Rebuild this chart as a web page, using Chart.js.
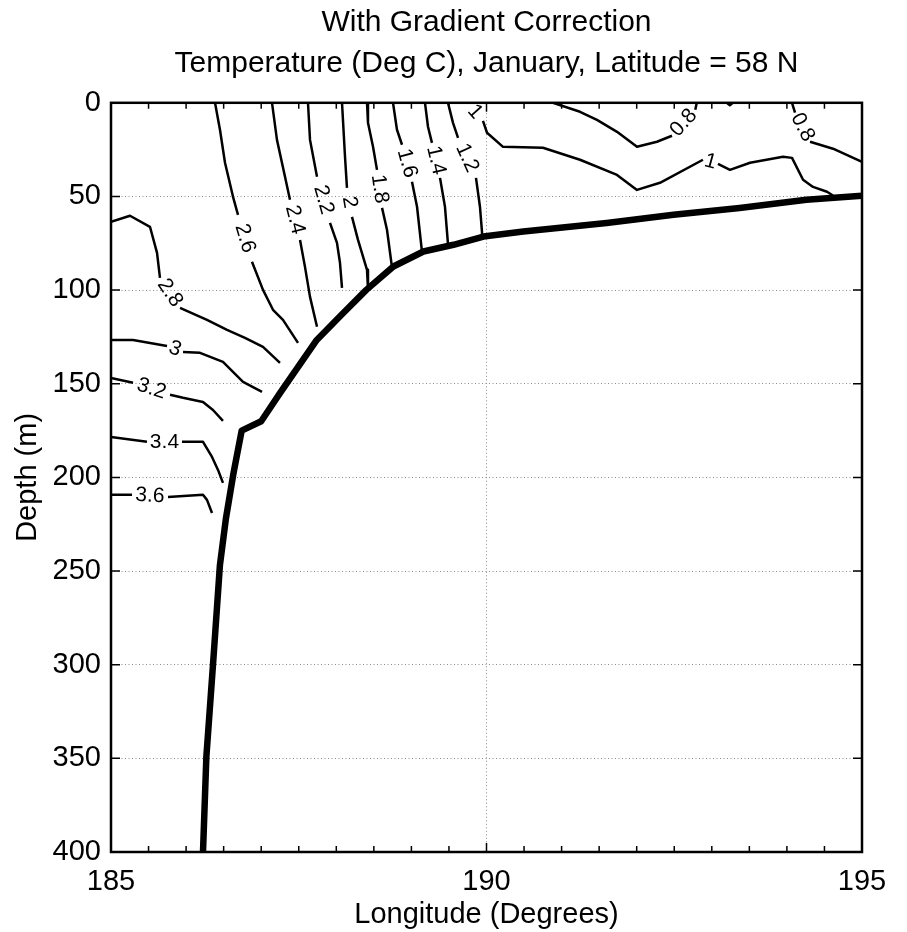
<!DOCTYPE html>
<html>
<head>
<meta charset="utf-8">
<title>Temperature section, January, 58 N</title>
<script src="https://cdn.jsdelivr.net/npm/chart.js@4.4.0/dist/chart.umd.min.js"></script>
<style>
  html, body { margin: 0; padding: 0; background: #fff; }
  #wrap { width: 907px; height: 932px; }
</style>
</head>
<body>
<div id="wrap"><canvas id="sectionChart" width="907" height="932"></canvas></div>
<script>
// points are [longitude, depth]; a null is where the contour label goes
var seafloor = [
  [186.225, 400], [186.27, 349], [186.36, 299], [186.45, 247], [186.53, 222],
  [186.63, 198], [186.74, 175], [187.0, 170], [187.25, 155], [187.74, 126.6],
  [188.05, 114], [188.40, 99.9], [188.76, 87.4], [189.16, 79.4], [189.56, 75.8],
  [189.96, 71.4], [190.49, 68.7], [191.6, 64.2], [192.49, 59.8], [193.37, 56.2],
  [194.26, 51.8], [195.0, 49.6]
];

var iso08a = [
  [190.885, 0], [191.245, 4.8], [191.471, 9.1], [191.738, 15.5], [192.004, 23.5],
  [192.27, 20.8], [192.47, 17.6], null, [192.78, 3.7], [192.80, 0]
];
var iso08b = [
  [194.068, 0], [194.108, 5.3], null, [194.308, 20.8], [194.614, 24.5], [195.0, 31.5]
];
var iso08c = [[193.20, 0], [193.24, 1.3], [193.28, 0]];
var iso10 = [
  [189.74, 0], null, [189.953, 9.6], [190.007, 16.0], [190.22, 23.5], [190.752, 24.0],
  [191.245, 30.4], [191.738, 38.5], [192.004, 46.5], [192.31, 42.7], [192.882, 30.4],
  null, [193.082, 32.6], [193.242, 35.8], [193.509, 32.0], [193.948, 28.8],
  [194.068, 29.4], [194.215, 41.1], [194.348, 44.9], [194.534, 47.5], [194.614, 49.5]
];
var iso12 = [
  [189.487, 0], [189.554, 10.7], [189.621, 18.7], null, [189.86, 40.1],
  [189.913, 55.5], [189.94, 68.9], [189.94, 71.5]
];
var iso14 = [
  [189.181, 0], [189.221, 12.8], [189.274, 21.4], null, [189.381, 40.1],
  [189.447, 55.5], [189.487, 75.3]
];
var iso16 = [
  [188.755, 0], [188.808, 14.4], [188.875, 22.4], null, [189.008, 42.2],
  [189.075, 55.5], [189.141, 79.6]
];
var iso18 = [
  [188.409, 0], [188.422, 10.7], [188.489, 23.5], [188.542, 35.8], null,
  [188.609, 56.1], [188.675, 67.8], [188.742, 88.0]
];
var iso20 = [
  [188.076, 0], [188.116, 28.8], [188.142, 45.4], null, [188.209, 60.9],
  [188.289, 73.2], [188.409, 89.2], [188.422, 99.5]
];
var iso22 = [
  [187.623, 0], [187.65, 19.8], [187.743, 39.5], null, [187.916, 64.1],
  [188.009, 74.8], [188.049, 85.4], [188.076, 98.8]
];
var iso24 = [
  [187.144, 0], [187.21, 19.8], [187.317, 39.5], [187.383, 51.8], null,
  [187.517, 73.2], [187.583, 87.6], [187.65, 103.6], [187.743, 119.6]
];
var iso26 = [
  [186.385, 0], [186.451, 14.4], [186.518, 32.0], [186.625, 50.2], [186.691, 59.8],
  null, [186.877, 84.9], [187.024, 99.9], [187.157, 110.5], [187.29, 115.9], [187.49, 128.2]
];
var iso28 = [
  [185.0, 63.6], [185.253, 60.3], [185.519, 66.2], [185.613, 80.1], [185.652, 93.5],
  null, [185.919, 109.5], [186.278, 115.9], [186.545, 121.2], [186.784, 125.5],
  [187.024, 130.3], [187.25, 138.9]
];
var iso30 = [
  [185.0, 126.6], [185.293, 126.6], [185.746, 129.8], null, [185.959, 133.0],
  [186.185, 133.5], [186.491, 138.3], [186.758, 149.0], [187.011, 154.3]
];
var iso32 = [
  [185.0, 146.9], [185.293, 149.5], null, [185.786, 155.9], [185.959, 157.5],
  [186.225, 159.7], [186.358, 164.0], [186.491, 169.8]
];
var iso34 = [
  [185.0, 178.4], [185.479, 181.0], null, [185.945, 181.0], [186.225, 181.0],
  [186.345, 189.1], [186.425, 196.0], [186.491, 202.9]
];
var iso36 = [
  [185.0, 209.3], [185.28, 209.3], null, [185.759, 210.4], [186.225, 209.3],
  [186.278, 212.0], [186.345, 219.0]
];

var isoLevels = [0.8, 0.8, 0.8, 1, 1.2, 1.4, 1.6, 1.8, 2, 2.2, 2.4, 2.6, 2.8, 3, 3.2, 3.4, 3.6];
var isoLines = [iso08a, iso08b, iso08c, iso10, iso12, iso14, iso16, iso18, iso20,
                iso22, iso24, iso26, iso28, iso30, iso32, iso34, iso36];

var titleLines = ['With Gradient Correction', 'Temperature (Deg C), January, Latitude = 58 N'];
var lonTicks = [185, 190, 195];

var FONT = '"Liberation Sans", Arial, Helvetica, sans-serif';

function toPoints(line) {
  return line.map(function(p) {
    return p ? { x: p[0], y: p[1] } : { x: null, y: null };
  });
}

var datasets = [{
  label: 'bottom',
  data: toPoints(seafloor),
  showLine: true,
  borderColor: '#000',
  borderWidth: 6.5,
  borderJoinStyle: 'round',
  pointRadius: 0
}];
isoLines.forEach(function(line, i) {
  datasets.push({
    label: String(isoLevels[i]),
    level: isoLevels[i],
    data: toPoints(line),
    showLine: true,
    spanGaps: false,
    borderColor: '#000',
    borderWidth: 2.5,
    borderJoinStyle: 'round',
    pointRadius: 0
  });
});

// clabel-style text in each gap, turned along the line
var contourLabels = {
  id: 'contourLabels',
  afterDatasetsDraw: function(chart) {
    var ctx = chart.ctx;
    ctx.save();
    ctx.font = '21px ' + FONT;
    ctx.fillStyle = '#000';
    ctx.textAlign = 'center';
    ctx.textBaseline = 'middle';
    chart.data.datasets.forEach(function(ds, di) {
      if (ds.level === undefined) return;
      var els = chart.getDatasetMeta(di).data;
      for (var k = 1; k < els.length - 1; k++) {
        if (!els[k].skip) continue;
        var a = els[k - 1], b = els[k + 1];
        var ang = Math.atan2(b.y - a.y, b.x - a.x);
        if (ang > Math.PI / 2) ang -= Math.PI;
        if (ang < -Math.PI / 2) ang += Math.PI;
        ctx.save();
        ctx.translate((a.x + b.x) / 2, (a.y + b.y) / 2);
        ctx.rotate(ang);
        ctx.fillText(String(ds.level), 0, 0);
        ctx.restore();
      }
    });
    ctx.restore();
  }
};

// box round the plot with inward ticks on all four sides
var axesFrame = {
  id: 'axesFrame',
  afterDraw: function(chart) {
    var a = chart.chartArea, xs = chart.scales.x, ys = chart.scales.y, ctx = chart.ctx;
    ctx.save();
    ctx.strokeStyle = '#000';
    ctx.lineWidth = 1.5;
    ctx.beginPath();
    for (var v = 185.5; v < 195; v += 0.5) {
      var px = xs.getPixelForValue(v);
      var len = (v % 5 === 0) ? 9 : 6;
      ctx.moveTo(px, a.bottom); ctx.lineTo(px, a.bottom - len);
      ctx.moveTo(px, a.top); ctx.lineTo(px, a.top + len);
    }
    for (var d = 50; d < 400; d += 50) {
      var py = ys.getPixelForValue(d);
      ctx.moveTo(a.left, py); ctx.lineTo(a.left + 9, py);
      ctx.moveTo(a.right, py); ctx.lineTo(a.right - 9, py);
    }
    ctx.stroke();
    ctx.lineWidth = 2.5;
    ctx.strokeRect(a.left, a.top, a.right - a.left, a.bottom - a.top);
    ctx.restore();
  }
};

function gridColor(inner) {
  return function(c) {
    return inner(c.tick.value) ? '#8a8a8a' : 'rgba(0,0,0,0)';
  };
}

new Chart(document.getElementById('sectionChart').getContext('2d'), {
  type: 'scatter',
  data: { datasets: datasets },
  plugins: [contourLabels, axesFrame],
  options: {
    responsive: false,
    animation: false,
    events: [],
    layout: { padding: { left: 0, right: 45, top: 0, bottom: 0 } },
    plugins: {
      legend: { display: false },
      tooltip: { enabled: false },
      title: {
        display: true,
        fullSize: false,
        text: titleLines,
        color: '#000',
        font: { family: FONT, size: 30, weight: 'normal', lineHeight: 1.38 },
        padding: { top: 2, bottom: 18 }
      }
    },
    scales: {
      x: {
        type: 'linear',
        min: 185,
        max: 195,
        afterBuildTicks: function(s) {
          s.ticks = lonTicks.map(function(v) { return { value: v }; });
        },
        afterFit: function(s) { s.height = 80; },
        ticks: { color: '#000', font: { family: FONT, size: 29 }, padding: 13 },
        grid: {
          drawTicks: false,
          lineWidth: 1,
          color: gridColor(function(v) { return v > 185 && v < 195; })
        },
        border: { display: false, dash: [1, 2.5] },
        title: {
          display: true,
          text: 'Longitude (Degrees)',
          color: '#000',
          font: { family: FONT, size: 29 },
          padding: { top: 0, bottom: 0 }
        }
      },
      y: {
        type: 'linear',
        reverse: true,
        min: 0,
        max: 400,
        afterFit: function(s) { s.width = 111; },
        ticks: { stepSize: 50, color: '#000', font: { family: FONT, size: 29 }, padding: 10 },
        grid: {
          drawTicks: false,
          lineWidth: 1,
          color: gridColor(function(v) { return v > 0 && v < 400; })
        },
        border: { display: false, dash: [1, 2.5] },
        title: {
          display: true,
          text: 'Depth (m)',
          color: '#000',
          font: { family: FONT, size: 29 },
          padding: { top: 11, bottom: 0 }
        }
      }
    }
  }
});
</script>
</body>
</html>
